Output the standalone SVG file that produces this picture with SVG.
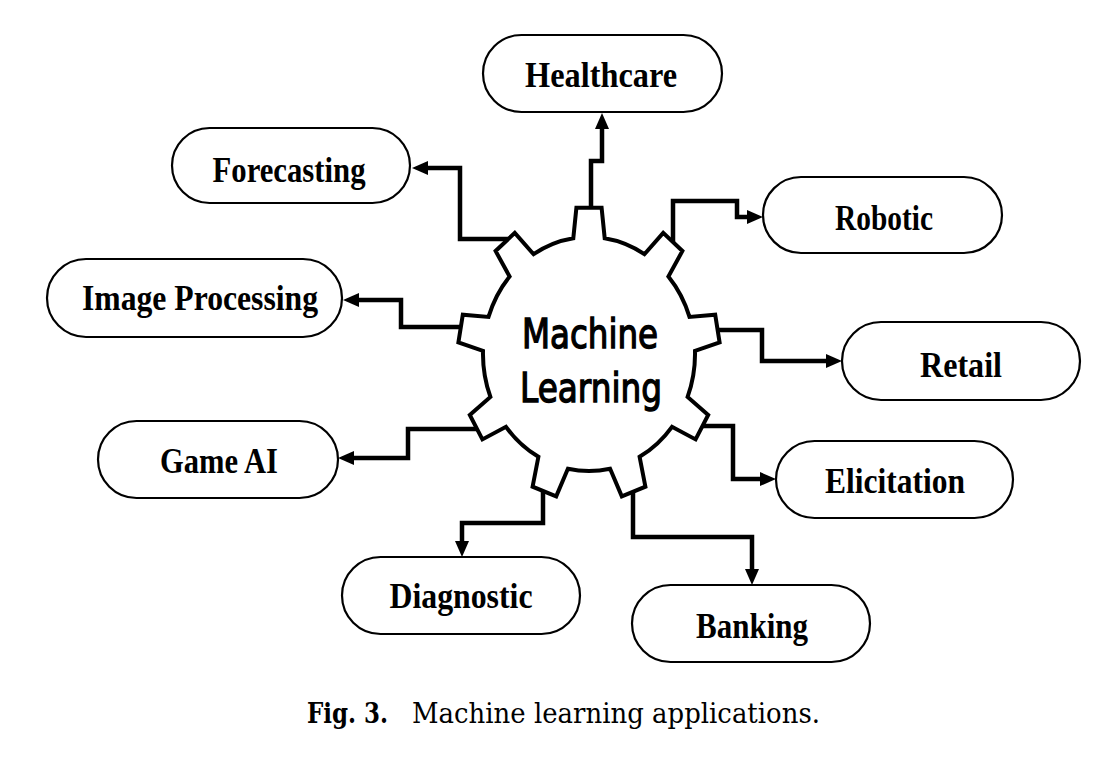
<svg xmlns="http://www.w3.org/2000/svg" width="1118" height="758" viewBox="0 0 1118 758">
<defs>
<style>
.box{fill:#fff;stroke:#000;stroke-width:2.2}
.lbl{font-family:"Liberation Serif","DejaVu Serif",serif;font-weight:bold;font-size:36px;fill:#000;text-anchor:middle}
.conn{fill:none;stroke:#000;stroke-width:4.5;stroke-linejoin:miter;marker-end:url(#arr)}
.gear{fill:#fff;stroke:#000;stroke-width:4;stroke-linejoin:miter}
.ml{font-family:"Comic Sans MS","DejaVu Sans",sans-serif;font-size:40px;fill:#000;stroke:#000;stroke-width:1.4;text-anchor:middle}
.cap{font-family:"DejaVu Serif","Liberation Serif",serif;font-size:27px;fill:#000}
</style>
<marker id="arr" markerUnits="userSpaceOnUse" markerWidth="16" markerHeight="16" viewBox="0 0 16 16" refX="1" refY="8" orient="auto">
<path d="M0,1 L16,8 L0,15 Z" fill="#000"/>
</marker>
</defs>
<rect width="1118" height="758" fill="#fff"/>
<g id="connectors">
<path class="conn" d="M591,215 V161 H602 V128"/>
<path class="conn" d="M515,239 H460 V168 H427"/>
<path class="conn" d="M673,248 V201 H737 V217 H748"/>
<path class="conn" d="M470,327 H401 V300 H358"/>
<path class="conn" d="M485,429 H408 V458 H353"/>
<path class="conn" d="M705,330 H762 V361 H827"/>
<path class="conn" d="M695,426 H733 V479 H761"/>
<path class="conn" d="M543,483 V523 H462 V542"/>
<path class="conn" d="M633,483 V537 H752 V570"/>
</g>
<g id="machine-learning">
<path class="gear" d="M573.3,238.3 L576.4,207.7 L601.6,207.7 L604.7,238.3 A106,117 0 0 1 644.4,254.2 L663.2,232.9 L682.4,251.0 L668.4,276.5 A106,117 0 0 1 689.5,316.9 L715.2,314.7 L719.6,342.5 L695.0,350.9 A106,117 0 0 1 687.6,396.9 L708.2,415.0 L695.6,439.4 L672.0,426.8 A106,117 0 0 1 639.6,456.8 L645.4,486.7 L621.8,496.3 L610.1,468.7 A106,117 0 0 1 567.9,468.7 L556.2,496.3 L532.6,486.7 L538.4,456.8 A106,117 0 0 1 506.0,426.8 L482.4,439.4 L469.8,415.0 L490.4,396.9 A106,117 0 0 1 483.0,350.9 L458.4,342.5 L462.8,314.7 L488.5,316.9 A106,117 0 0 1 509.6,276.5 L495.6,251.0 L514.8,232.9 L533.6,254.2 A106,117 0 0 1 573.3,238.3 Z"/>
<text class="ml" x="590" y="348" textLength="136" lengthAdjust="spacingAndGlyphs">Machine</text>
<text class="ml" x="591" y="402" textLength="142" lengthAdjust="spacingAndGlyphs">Learning</text>
</g>
<g id="healthcare">
<rect class="box" x="483" y="35" width="239" height="77" rx="38.5"/>
<text class="lbl" x="601" y="87" textLength="152" lengthAdjust="spacingAndGlyphs">Healthcare</text>
</g>
<g id="forecasting">
<rect class="box" x="172" y="128" width="238" height="75" rx="37.5"/>
<text class="lbl" x="289" y="182" textLength="153" lengthAdjust="spacingAndGlyphs">Forecasting</text>
</g>
<g id="robotic">
<rect class="box" x="763" y="177" width="239" height="76" rx="38"/>
<text class="lbl" x="884" y="230" textLength="98" lengthAdjust="spacingAndGlyphs">Robotic</text>
</g>
<g id="image-processing">
<rect class="box" x="47" y="259" width="295" height="78" rx="39"/>
<text class="lbl" x="200" y="310" textLength="236" lengthAdjust="spacingAndGlyphs">Image Processing</text>
</g>
<g id="retail">
<rect class="box" x="842" y="322" width="238" height="78" rx="39"/>
<text class="lbl" x="961" y="377" textLength="82" lengthAdjust="spacingAndGlyphs">Retail</text>
</g>
<g id="game-ai">
<rect class="box" x="98" y="421" width="240" height="77" rx="38.5"/>
<text class="lbl" x="219" y="473" textLength="118" lengthAdjust="spacingAndGlyphs">Game AI</text>
</g>
<g id="elicitation">
<rect class="box" x="776" y="441" width="237" height="77" rx="38.5"/>
<text class="lbl" x="895" y="493" textLength="140" lengthAdjust="spacingAndGlyphs">Elicitation</text>
</g>
<g id="diagnostic">
<rect class="box" x="342" y="557" width="238" height="77" rx="38.5"/>
<text class="lbl" x="461" y="608" textLength="143" lengthAdjust="spacingAndGlyphs">Diagnostic</text>
</g>
<g id="banking">
<rect class="box" x="632" y="585" width="238" height="77" rx="38.5"/>
<text class="lbl" x="752" y="638" textLength="112" lengthAdjust="spacingAndGlyphs">Banking</text>
</g>
<text class="cap" y="723"><tspan x="307" font-weight="bold" textLength="81" lengthAdjust="spacingAndGlyphs">Fig. 3.</tspan><tspan x="412" textLength="408" lengthAdjust="spacingAndGlyphs">Machine learning applications.</tspan></text>
</svg>
